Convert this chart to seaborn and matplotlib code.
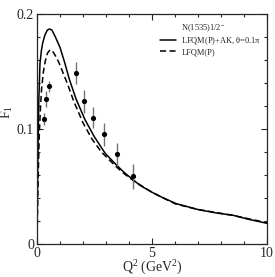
import numpy as np
import pandas as pd
import matplotlib
matplotlib.use("Agg")
import matplotlib.pyplot as plt
from matplotlib.lines import Line2D
import seaborn as sns

# model curves
q2_full = [0.0, 0.015, 0.03, 0.05, 0.08, 0.13, 0.19, 0.25, 0.35, 0.45, 0.54, 0.65, 0.8, 1.0, 1.2,
           1.41, 1.7, 2.09, 2.5, 2.96, 3.39, 3.8, 4.19, 4.48, 5.0, 5.5, 6.07, 7.0, 7.8, 8.52, 9.2, 10.0]
f1_full = [0.0, 0.035, 0.062, 0.092, 0.125, 0.157, 0.168, 0.175, 0.182, 0.186, 0.187, 0.186, 0.180, 0.171, 0.158,
           0.143, 0.126, 0.108, 0.093, 0.079, 0.070, 0.062, 0.0557, 0.051, 0.045, 0.040, 0.035, 0.030, 0.027, 0.025, 0.0215, 0.018]

q2_p = [0.0, 0.02, 0.04, 0.07, 0.1, 0.15, 0.2, 0.28, 0.36, 0.46, 0.57, 0.7, 0.85, 0.97, 1.15,
        1.33, 1.6, 2.01, 2.4, 2.8, 3.4, 3.8, 4.2, 5.0, 6.0, 7.0, 8.5, 10.0]
f1_p = [0.0, 0.024, 0.045, 0.073, 0.095, 0.118, 0.135, 0.150, 0.159, 0.166, 0.169, 0.167, 0.162, 0.157, 0.148,
        0.139, 0.124, 0.105, 0.091, 0.080, 0.068, 0.061, 0.055, 0.045, 0.035, 0.030, 0.025, 0.0185]

# data points
q2_data = [0.3, 0.4, 0.525, 1.7, 2.05, 2.44, 2.91, 3.48, 4.16]
f1_data = [0.1087, 0.126, 0.137, 0.149, 0.124, 0.110, 0.0954, 0.078, 0.059]
f1_err = [0.005, 0.007, 0.005, 0.0095, 0.010, 0.0095, 0.010, 0.010, 0.011]

sns.set_style("ticks")
plt.rcParams['font.family'] = ['Liberation Serif', 'DejaVu Serif']
plt.rcParams['mathtext.default'] = 'regular'
plt.rcParams['mathtext.fontset'] = 'custom'
plt.rcParams['mathtext.rm'] = 'Liberation Serif'
plt.rcParams['mathtext.it'] = 'Liberation Serif:italic'

fig = plt.figure(figsize=(2.75, 2.77), dpi=100)
ax = fig.add_axes([0.1345, 0.119, 0.8365, 0.8305])

df_full = pd.DataFrame({'Q2': q2_full, 'F1': f1_full})
df_p = pd.DataFrame({'Q2': q2_p, 'F1': f1_p})
sns.lineplot(data=df_full, x='Q2', y='F1', ax=ax, color='black', lw=1.1, sort=False)
sns.lineplot(data=df_p, x='Q2', y='F1', ax=ax, color='black', lw=1.1, sort=False,
             dashes=False, linestyle=(0, (4, 2.2)))

ax.errorbar(q2_data, f1_data, yerr=f1_err, fmt='none', ecolor='0.45', elinewidth=1.0, capsize=0)
sns.scatterplot(x=q2_data, y=f1_data, ax=ax, color='black', s=14, edgecolor='black', linewidth=0, zorder=5)

ax.set_xlim(0, 10)
ax.set_ylim(0, 0.2)
ax.set_xticks([0, 5, 10])
ax.set_xticks(np.arange(0, 11, 1), minor=True)
ax.set_yticks([0, 0.1, 0.2])
ax.set_yticks(np.arange(0, 0.201, 0.02), minor=True)
ax.set_xticklabels(['0', '5', '10'])
ax.set_yticklabels(['0', '0.1', '0.2'])
ax.tick_params(which='both', direction='in', top=True, right=True, labelsize=10, width=0.8, pad=2)
ax.tick_params(which='major', length=4)
ax.tick_params(which='minor', length=2.2)
for s in ax.spines.values():
    s.set_linewidth(0.9)

ax.set_xlabel('Q$^2$ (GeV$^2$)', fontsize=10)
ax.xaxis.set_label_coords(0.5, -0.063)
ax.set_ylabel('F$_1$', fontsize=10)
ax.yaxis.set_label_coords(-0.095, 0.574)

handles = [Line2D([], [], color='none'),
           Line2D([], [], color='black', lw=1.1),
           Line2D([], [], color='black', lw=1.1, linestyle=(0, (4, 2.2)))]
labels = ['N(1535)1/2$^{-}$', r'LFQM(P)+AK, $\theta$=0.1$\pi$', 'LFQM(P)']
ax.legend(handles, labels, loc='upper right', bbox_to_anchor=(1.0, 0.99), frameon=False,
          fontsize=6, handlelength=2.0, handletextpad=0.6, labelspacing=0.15, borderaxespad=0.3)

fig.savefig('out.png', dpi=100)
